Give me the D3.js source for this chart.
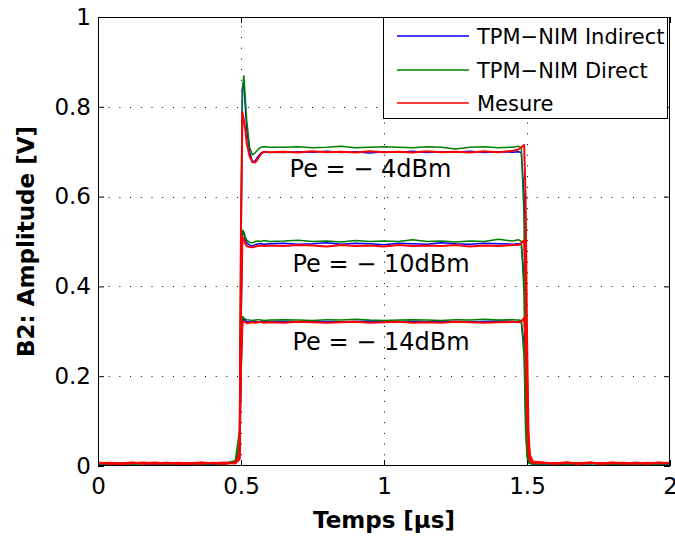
<!DOCTYPE html>
<html>
<head>
<meta charset="utf-8">
<script src="https://cdn.jsdelivr.net/npm/d3@7"></script>
<style>
  html, body { margin: 0; padding: 0; background: #fff; }
  text { font-family: "DejaVu Sans", sans-serif; }
</style>
</head>
<body>
<svg id="chart" width="675" height="542"></svg>
<script>
// ---------------- data ----------------
const t = [0,0.04,0.08,0.12,0.16,0.2,0.24,0.28,0.32,0.36,0.4,0.44,0.48,
  0.495,0.5,0.505,0.51,0.515,0.52,0.53,0.54,0.55,0.56,0.57,0.58,0.6,
  0.65,0.7,0.75,0.8,0.85,0.9,0.95,1,1.05,1.1,1.15,1.2,1.25,1.3,1.35,1.4,1.45,
  1.47,1.48,1.49,1.495,1.5,1.505,1.51,1.52,
  1.56,1.6,1.64,1.68,1.72,1.76,1.8,1.84,1.88,1.92,1.96,2];

// Pe = -4 dBm
const ind4 = [0.006,0.004,0.007,0.005,0.006,0.004,0.006,0.005,0.007,0.005,0.004,0.006,0.008,
  0.05,0.45,0.84,0.85,0.80,0.75,0.70,0.677,0.680,0.690,0.697,0.700,0.699,
  0.698,0.700,0.699,0.701,0.698,0.700,0.697,0.700,0.699,0.701,0.698,0.700,0.699,0.701,0.698,0.700,0.699,
  0.700,0.698,0.60,0.30,0.08,0.02,0.008,0.005,
  0.006,0.004,0.006,0.005,0.007,0.004,0.006,0.005,0.006,0.004,0.006,0.005];
const dir4 = [0.005,0.007,0.004,0.006,0.005,0.007,0.004,0.006,0.005,0.007,0.005,0.006,0.012,
  0.08,0.55,0.84,0.869,0.82,0.77,0.71,0.693,0.698,0.705,0.710,0.711,0.710,
  0.710,0.711,0.709,0.710,0.712,0.709,0.710,0.711,0.710,0.709,0.711,0.710,0.706,0.710,0.711,0.709,0.710,
  0.712,0.709,0.55,0.20,0.04,0.01,0.006,0.005,
  0.005,0.007,0.004,0.006,0.005,0.006,0.004,0.007,0.005,0.006,0.004,0.006];
const mes4 = [0.007,0.005,0.006,0.008,0.005,0.006,0.007,0.005,0.006,0.008,0.006,0.005,0.007,
  0.03,0.55,0.788,0.77,0.75,0.72,0.69,0.677,0.676,0.685,0.695,0.700,0.699,
  0.700,0.698,0.701,0.699,0.700,0.698,0.701,0.699,0.700,0.698,0.701,0.699,0.700,0.698,0.701,0.699,0.702,
  0.705,0.710,0.715,0.60,0.30,0.08,0.025,0.01,
  0.007,0.006,0.008,0.005,0.007,0.006,0.008,0.006,0.007,0.005,0.007,0.006];

// Pe = -10 dBm
const ind10 = [0.005,0.006,0.004,0.007,0.005,0.006,0.005,0.004,0.006,0.005,0.007,0.005,0.007,
  0.03,0.30,0.515,0.52,0.505,0.497,0.492,0.490,0.493,0.495,0.495,0.494,0.495,
  0.496,0.494,0.495,0.497,0.494,0.496,0.495,0.493,0.496,0.495,0.494,0.497,0.495,0.494,0.496,0.495,0.494,
  0.495,0.494,0.42,0.20,0.05,0.015,0.007,0.005,
  0.005,0.006,0.004,0.006,0.005,0.007,0.005,0.004,0.006,0.005,0.006,0.005];
const dir10 = [0.006,0.004,0.006,0.005,0.007,0.005,0.006,0.004,0.006,0.005,0.006,0.004,0.010,
  0.05,0.38,0.525,0.522,0.51,0.503,0.498,0.497,0.500,0.501,0.500,0.502,0.500,
  0.501,0.503,0.500,0.501,0.499,0.502,0.500,0.501,0.500,0.504,0.500,0.501,0.499,0.501,0.500,0.505,0.501,
  0.504,0.500,0.38,0.13,0.03,0.008,0.006,0.005,
  0.006,0.005,0.007,0.004,0.006,0.005,0.006,0.004,0.006,0.005,0.007,0.005];
const mes10 = [0.006,0.007,0.005,0.006,0.008,0.005,0.007,0.006,0.005,0.007,0.006,0.008,0.006,
  0.02,0.35,0.51,0.505,0.495,0.49,0.488,0.487,0.489,0.490,0.491,0.490,0.491,
  0.490,0.492,0.491,0.489,0.492,0.490,0.491,0.489,0.492,0.490,0.491,0.490,0.492,0.489,0.491,0.490,0.492,
  0.492,0.496,0.503,0.42,0.20,0.05,0.02,0.008,
  0.007,0.005,0.007,0.006,0.008,0.005,0.006,0.007,0.005,0.007,0.006,0.007];

// Pe = -14 dBm
const ind14 = [0.005,0.004,0.006,0.005,0.006,0.004,0.006,0.005,0.004,0.006,0.005,0.006,0.006,
  0.02,0.20,0.32,0.328,0.324,0.322,0.321,0.322,0.322,0.321,0.322,0.323,0.322,
  0.322,0.321,0.323,0.322,0.321,0.322,0.323,0.321,0.322,0.322,0.321,0.323,0.322,0.321,0.322,0.323,0.322,
  0.322,0.321,0.27,0.12,0.03,0.01,0.006,0.005,
  0.005,0.006,0.004,0.005,0.006,0.005,0.004,0.006,0.005,0.006,0.004,0.005];
const dir14 = [0.006,0.005,0.007,0.004,0.006,0.005,0.007,0.005,0.006,0.004,0.006,0.005,0.009,
  0.03,0.25,0.333,0.330,0.327,0.326,0.325,0.324,0.325,0.326,0.325,0.324,0.325,
  0.326,0.325,0.324,0.326,0.325,0.327,0.325,0.324,0.325,0.326,0.325,0.324,0.326,0.325,0.327,0.325,0.326,
  0.325,0.324,0.24,0.08,0.02,0.007,0.006,0.005,
  0.006,0.004,0.006,0.005,0.007,0.004,0.006,0.005,0.006,0.004,0.006,0.005];
const mes14 = [0.007,0.006,0.005,0.007,0.006,0.008,0.005,0.007,0.006,0.005,0.007,0.006,0.006,
  0.015,0.22,0.318,0.322,0.320,0.318,0.319,0.320,0.319,0.320,0.321,0.319,0.320,
  0.319,0.321,0.320,0.319,0.320,0.321,0.319,0.320,0.321,0.319,0.320,0.319,0.321,0.320,0.319,0.320,0.321,
  0.320,0.322,0.330,0.27,0.12,0.03,0.012,0.007,
  0.007,0.006,0.008,0.005,0.007,0.006,0.007,0.005,0.007,0.006,0.008,0.006];

const seriesNames = ["TPM\u2212NIM Indirect", "TPM\u2212NIM Direct", "Mesure"];
const seriesColors = ["#0000ff", "#008000", "#ff0000"];
const seriesWidths = [1.5, 1.5, 2];
const seriesData = [[ind4, ind10, ind14], [dir4, dir10, dir14], [mes4, mes10, mes14]];

const levelLabels = ["Pe = \u2212 4dBm", "Pe = \u2212 10dBm", "Pe = \u2212 14dBm"];
const levelLabelPos = [[0.67, 0.644], [0.68, 0.432], [0.68, 0.258]];

const xTicks = [0, 0.5, 1, 1.5, 2];
const xTickLabels = ["0", "0.5", "1", "1.5", "2"];
const yTicks = [0, 0.2, 0.4, 0.6, 0.8, 1];
const yTickLabels = ["0", "0.2", "0.4", "0.6", "0.8", "1"];

const xTitle = "Temps [\u00b5s]";
const yTitle = "B2: Amplitude [V]";

// ---------------- layout ----------------
const L = 98, R = 670, T = 17, B = 466;
const svg = d3.select("#chart");
const x = d3.scaleLinear().domain([0, 2]).range([L, R]);
const y = d3.scaleLinear().domain([0, 1]).range([B, T]);

svg.append("rect").attr("x", 0).attr("y", 0).attr("width", 675).attr("height", 542).attr("fill", "#fff");
svg.append("rect").attr("x", L).attr("y", T).attr("width", R - L).attr("height", B - T).attr("fill", "#fff");

// grid
const grid = svg.append("g").attr("stroke", "#000").attr("stroke-width", 1).attr("stroke-dasharray", "1,9.7");
xTicks.filter(d => d > 0 && d < 2).forEach(d => {
  grid.append("line").attr("x1", Math.round(x(d)) + 0.5).attr("x2", Math.round(x(d)) + 0.5)
    .attr("y1", B).attr("y2", T);
});
yTicks.filter(d => d > 0 && d < 1).forEach(d => {
  grid.append("line").attr("y1", Math.round(y(d)) + 0.5).attr("y2", Math.round(y(d)) + 0.5)
    .attr("x1", L).attr("x2", R);
});

// data lines
const line = d3.line().x((d, i) => x(t[i])).y(d => y(d));
const plot = svg.append("g");
seriesData.forEach((group, si) => {
  group.forEach(vals => {
    plot.append("path").datum(vals)
      .attr("d", line)
      .attr("fill", "none")
      .attr("stroke", seriesColors[si])
      .attr("stroke-width", seriesWidths[si])
      .attr("stroke-linejoin", "round");
  });
});

// level annotations
levelLabels.forEach((s, i) => {
  svg.append("text")
    .attr("x", x(levelLabelPos[i][0]))
    .attr("y", y(levelLabelPos[i][1]))
    .attr("font-size", 24)
    .attr("fill", "#000")
    .text(s);
});

// axes (inward ticks)
const tickLen = 6;
const fmtX = (d) => xTickLabels[xTicks.indexOf(d)];
const fmtY = (d) => yTickLabels[yTicks.indexOf(d)];

const axB = svg.append("g").attr("transform", `translate(0,${B})`)
  .call(d3.axisBottom(x).tickValues(xTicks).tickFormat(fmtX).tickSizeInner(-tickLen).tickSizeOuter(0).tickPadding(11.5));
const axL = svg.append("g").attr("transform", `translate(${L},0)`)
  .call(d3.axisLeft(y).tickValues(yTicks).tickFormat(fmtY).tickSizeInner(-tickLen).tickSizeOuter(0).tickPadding(7));
const axT = svg.append("g").attr("transform", `translate(0,${T})`)
  .call(d3.axisTop(x).tickValues(xTicks).tickFormat("").tickSizeInner(-tickLen).tickSizeOuter(0));
const axR = svg.append("g").attr("transform", `translate(${R},0)`)
  .call(d3.axisRight(y).tickValues(yTicks).tickFormat("").tickSizeInner(-tickLen).tickSizeOuter(0));
[axB, axL, axT, axR].forEach(g => {
  g.select(".domain").remove();
  g.selectAll("line").attr("stroke", "#000");
  g.selectAll("text").attr("font-size", 23).attr("fill", "#000").attr("font-family", "DejaVu Sans");
});

// box
svg.append("rect").attr("x", L + 0.5).attr("y", T + 0.5).attr("width", R - L - 1).attr("height", B - T - 1)
  .attr("fill", "none").attr("stroke", "#000").attr("stroke-width", 1);

// axis titles
svg.append("text").attr("x", (L + R) / 2).attr("y", 528)
  .attr("text-anchor", "middle").attr("font-size", 23).attr("font-weight", "bold").text(xTitle);
svg.append("text").attr("transform", `translate(34,${(T + B) / 2 + 0}) rotate(-90)`)
  .attr("text-anchor", "middle").attr("font-size", 23).attr("font-weight", "bold").text(yTitle);

// legend
const lg = svg.append("g");
lg.append("rect").attr("x", 383.5).attr("y", T + 0.5).attr("width", 284).attr("height", 101)
  .attr("fill", "#fff").attr("stroke", "#000").attr("stroke-width", 1);
const legY = [36, 70, 103];
seriesNames.forEach((n, i) => {
  lg.append("line").attr("x1", 397).attr("x2", 469).attr("y1", legY[i]).attr("y2", legY[i])
    .attr("stroke", seriesColors[i]).attr("stroke-width", 1.5);
  lg.append("text").attr("x", 477).attr("y", legY[i]).attr("dy", "0.36em")
    .attr("font-size", 21).attr("fill", "#000").text(n);
});
</script>
</body>
</html>
